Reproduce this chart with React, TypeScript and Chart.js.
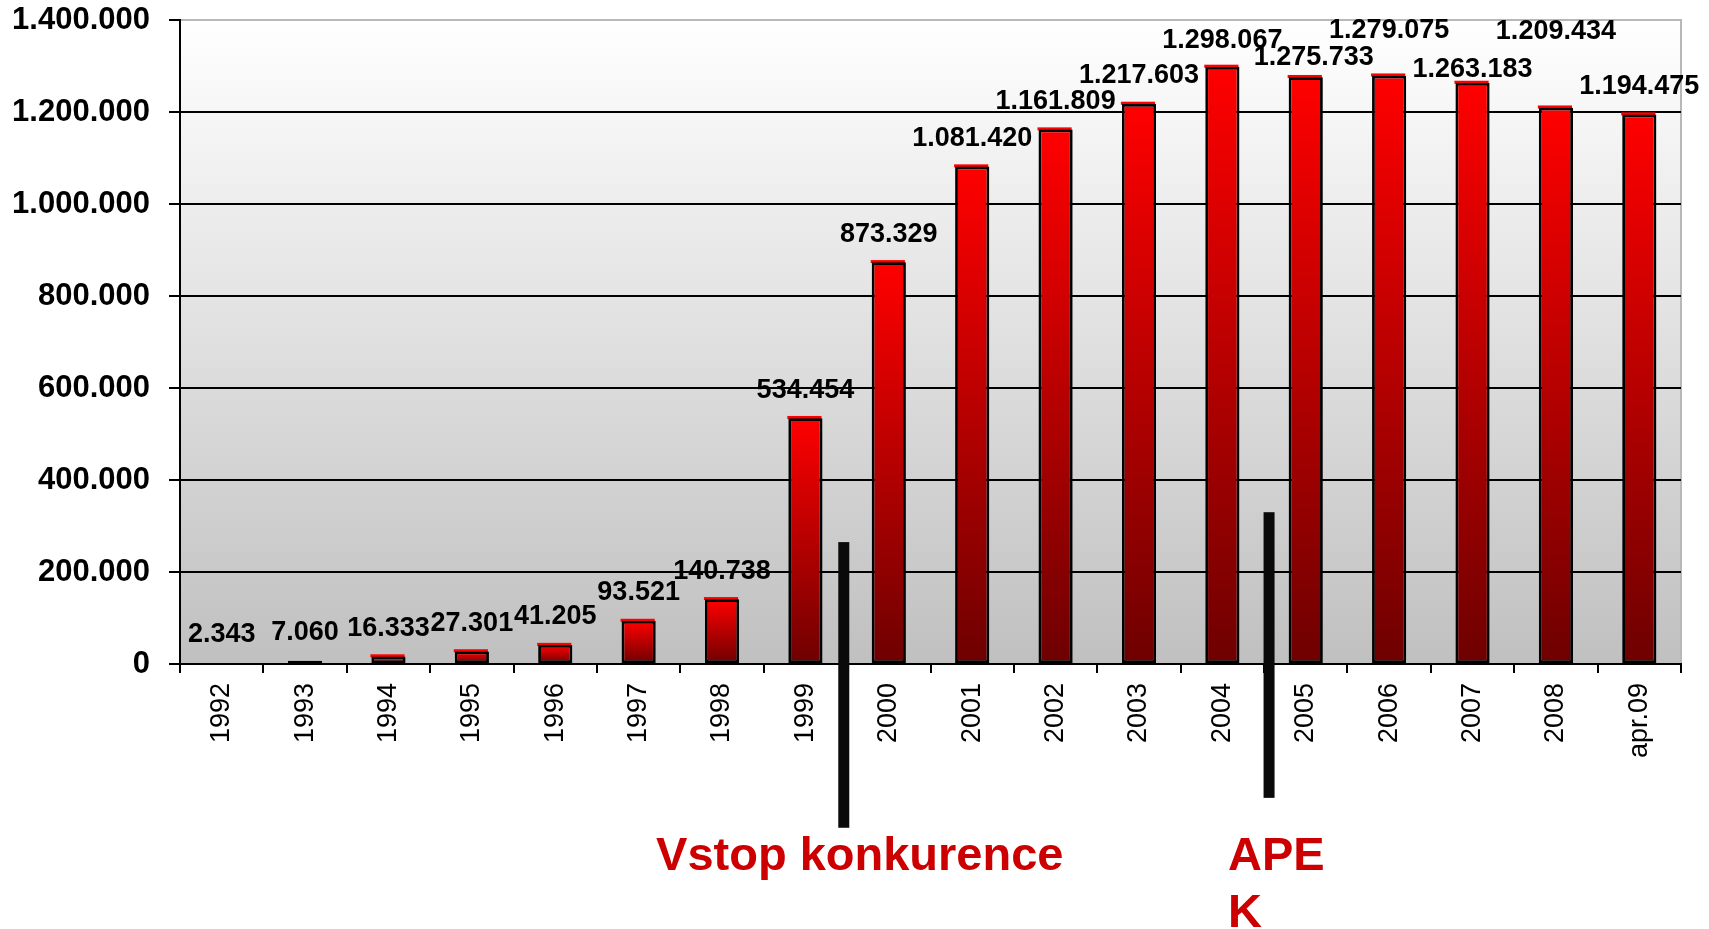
import React, { useEffect, useRef } from "react";
import { Chart, registerables } from "chart.js";

Chart.register(...registerables);

// ---------- data ----------
const categories = [
  "1992", "1993", "1994", "1995", "1996", "1997", "1998", "1999", "2000",
  "2001", "2002", "2003", "2004", "2005", "2006", "2007", "2008", "apr.09",
];
const subscribers = [
  2343, 7060, 16333, 27301, 41205, 93521, 140738, 534454, 873329,
  1081420, 1161809, 1217603, 1298067, 1275733, 1279075, 1263183, 1209434, 1194475,
];
const yTicks = [0, 200000, 400000, 600000, 800000, 1000000, 1200000, 1400000];

// value-label nudges (pixels, styling only)
const labelLift = [0, 0, 0, 0, 0, 0, 0, 0, 0, 0, 0, 0, -2, -8, 17, -15, 48, 0];
const labelNudgeX = [0, 0, 0, 0, 0, 0, 0, 0, 0, 0, 0, 0, 0, 8, 0, 0, 0, 0];

// event markers (category index position, value range of the black bar)
const eventNames = [["Vstop konkurence"], ["APE", "K"]];
const eventAt = [7.46, 12.56];
const eventTop = [265000, 330000];
const eventBottom = [-356000, -291000];

// ---------- styling ----------
const FONT = "'Liberation Sans', Arial, Helvetica, sans-serif";
const eventTextAlign: CanvasTextAlign[] = ["center", "left"];
const eventTextDx = [16, -41];

const fmt = (v: number) => String(Math.round(v)).replace(/\B(?=(\d{3})+(?!\d))/g, ".");

const plotBg = {
  id: "plotBg",
  beforeDraw(chart: any) {
    const { ctx, chartArea: a } = chart;
    if (!a) return;
    ctx.save();
    const g = ctx.createLinearGradient(0, a.top, 0, a.bottom);
    g.addColorStop(0, "#ffffff");
    g.addColorStop(1, "#c0c0c0");
    ctx.fillStyle = g;
    ctx.fillRect(a.left, a.top, a.right - a.left, a.bottom - a.top);
    ctx.strokeStyle = "#b8b8b8";
    ctx.lineWidth = 2;
    ctx.beginPath();
    ctx.moveTo(a.left, a.top);
    ctx.lineTo(a.right, a.top);
    ctx.lineTo(a.right, a.bottom);
    ctx.stroke();
    ctx.restore();
  },
};

const barSliver = {
  id: "barSliver",
  beforeDatasetsDraw(chart: any) {
    const { ctx } = chart;
    const meta = chart.getDatasetMeta(0);
    ctx.save();
    ctx.fillStyle = "#ff0000";
    meta.data.forEach((el: any) => {
      const p = el.getProps(["x", "y", "base", "width"], true);
      if (p.base - p.y < 4) return;
      ctx.fillRect(p.x - p.width / 2 - 1, p.y - 2.2, p.width, 3);
    });
    ctx.restore();
  },
};

const valueLabels = {
  id: "valueLabels",
  afterDatasetsDraw(chart: any) {
    const { ctx } = chart;
    const meta = chart.getDatasetMeta(0);
    ctx.save();
    ctx.fillStyle = "#000";
    ctx.font = `bold 27px ${FONT}`;
    ctx.textAlign = "center";
    ctx.textBaseline = "middle";
    meta.data.forEach((el: any, i: number) => {
      const p = el.getProps(["x", "y"], true);
      ctx.fillText(fmt(subscribers[i]), p.x + labelNudgeX[i], p.y - 28 - labelLift[i]);
    });
    ctx.restore();
  },
};

const events = {
  id: "events",
  afterDraw(chart: any) {
    const { ctx, scales } = chart;
    const xs = scales.x;
    const ys = scales.y;
    ctx.save();
    eventAt.forEach((pos, i) => {
      const x = xs.getPixelForValue(pos);
      const yT = ys.getPixelForValue(eventTop[i]);
      const yB = ys.getPixelForValue(eventBottom[i]);
      ctx.fillStyle = "#0a0a0a";
      ctx.fillRect(x - 5.5, yT, 11, yB - yT);
      ctx.fillStyle = "#cc0000";
      ctx.font = `bold 47px ${FONT}`;
      ctx.textAlign = eventTextAlign[i];
      ctx.textBaseline = "alphabetic";
      const baseY = ys.getPixelForValue(0) + 206;
      eventNames[i].forEach((line, k) => {
        ctx.fillText(line, x + eventTextDx[i], baseY + k * 57);
      });
    });
    ctx.restore();
  },
};

export default function App() {
  const ref = useRef<HTMLCanvasElement | null>(null);

  useEffect(() => {
    document.body.style.margin = "0";
    document.body.style.background = "#ffffff";
    const canvas = ref.current;
    if (!canvas) return;
    const chart = new Chart(canvas, {
      type: "bar",
      data: {
        labels: categories,
        datasets: [
          {
            data: subscribers,
            backgroundColor: (c: any) => {
              const ch = c.chart;
              if (!ch.chartArea || c.type !== "data") return "#cc0000";
              const ys = ch.scales.y;
              const top = ys.getPixelForValue(c.raw as number);
              const bot = ys.getPixelForValue(0);
              if (bot - top < 2) return "#800000";
              const g = ch.ctx.createLinearGradient(0, top, 0, bot);
              g.addColorStop(0, "#ff0000");
              g.addColorStop(1, "#6e0000");
              return g;
            },
            borderColor: "#000000",
            borderWidth: 2.8,
            borderSkipped: false,
            barPercentage: 0.41,
            categoryPercentage: 1,
          },
        ],
      },
      options: {
        responsive: false,
        animation: false,
        layout: { padding: { left: 0, right: 28, top: 20, bottom: 0 } },
        plugins: {
          legend: { display: false },
          tooltip: { enabled: false },
          title: { display: false },
        },
        scales: {
          x: {
            offset: true,
            grid: {
              offset: true,
              drawOnChartArea: false,
              color: "#000",
              lineWidth: 2,
              tickLength: 9,
              tickWidth: 2,
              tickColor: "#000",
            },
            border: { color: "#000", width: 2 },
            ticks: {
              color: "#000",
              font: { family: FONT, size: 27 },
              minRotation: 90,
              maxRotation: 90,
              padding: 10,
              autoSkip: false,
            },
            afterFit: (s: any) => {
              s.height = 265;
              s.paddingLeft = 0;
              s.paddingRight = 0;
            },
          },
          y: {
            min: 0,
            max: 1400000,
            afterBuildTicks: (s: any) => {
              s.ticks = yTicks.map((v) => ({ value: v }));
            },
            ticks: {
              color: "#000",
              font: { family: FONT, size: 31, weight: "bold" },
              padding: 19,
              callback: (v: any) => fmt(Number(v)),
            },
            grid: {
              color: (c: any) => (c.tick && c.tick.value === 1400000 ? "#b8b8b8" : "#000"),
              lineWidth: 2,
              tickLength: 11,
              tickWidth: 2,
              tickColor: "#000",
            },
            border: { color: "#000", width: 2 },
            afterFit: (s: any) => {
              s.width = 180;
              s.paddingTop = 0;
              s.paddingBottom = 0;
            },
          },
        },
      } as any,
      plugins: [plotBg, barSliver, valueLabels, events],
    });
    return () => chart.destroy();
  }, []);

  return (
    <div style={{ width: 1709, height: 929, background: "#fff" }}>
      <canvas ref={ref} width={1709} height={929} style={{ display: "block" }} />
    </div>
  );
}
